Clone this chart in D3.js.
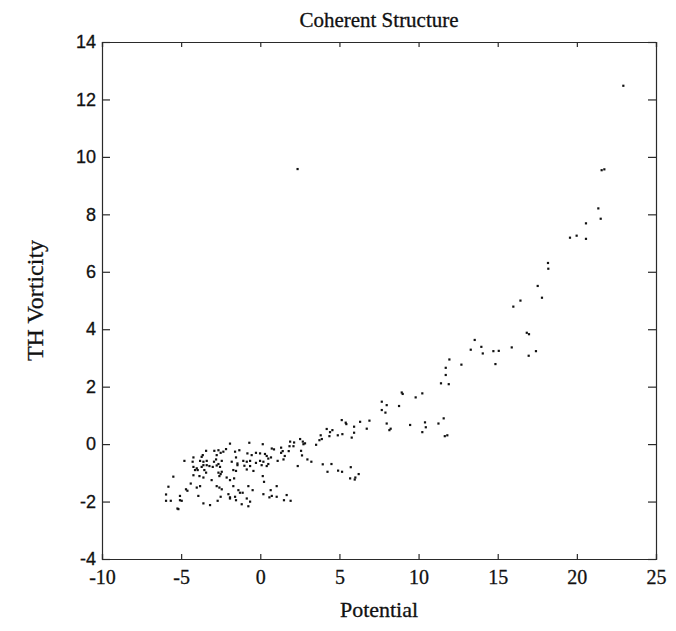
<!DOCTYPE html>
<html>
<head>
<meta charset="utf-8">
<script src="https://cdn.jsdelivr.net/npm/d3@7"></script>
<style>
  body { margin: 0; background: #fff; }
  svg { display: block; }
</style>
</head>
<body>
<div id="chart"></div>
<script>
//Chart texts
var title = "Coherent Structure";
var xLabel = "Potential";
var yLabel = "TH Vorticity";

//Axis ticks
var xTicks = [-10, -5, 0, 5, 10, 15, 20, 25];
var yTicks = [-4, -2, 0, 2, 4, 6, 8, 10, 12, 14];

//Scatter values (potential, vorticity pairs)
var potential = [
  -1.92, -0.70, 0.15, 0.72, 0.86,
  -3.43, -2.91, -2.65, -2.51, -2.34, -2.17,
  -3.64, -3.71, -2.76, -2.80, -1.60, -1.54, -1.33, -0.82, -0.55, -0.28, -0.02, 0.29, 0.40, 0.50, 0.67,
  -4.23, -4.80, -4.28, -3.81, -3.60, -3.39, -2.93, -2.44,
  -1.81, -1.45, -1.08, -0.86, -0.65, -0.28, -0.02, 0.19,
  -4.23, -4.02, -3.71, -3.60, -3.39, -3.22, -3.01, -2.76, -2.65, -2.55,
  -1.45, -1.01, -0.65, 0.08, 0.40, 0.50, 1.09,
  -4.13, -3.96, -3.54, -3.43, -2.44, -2.65, -1.71, -1.54, -0.86, -0.44,
  -5.50, -4.23, -3.85, -3.60, -3.08, -2.59, -2.51, -2.13, -1.92, -1.66,
  0.15, 0.23,
  -5.81, -4.70, -4.61, -4.40, -4.02, -3.81, -2.76, -2.59, -2.44, -1.71, -1.39, -0.76, -0.49,
  0.65, 1.03,
  -5.96, -5.08, -3.92, -2.51, -2.02, -1.92, -1.60, -1.29, -1.12,
  0.19, 0.72, 1.03, 1.66,
  -5.96, -5.66, -5.08, -4.97, -3.60, -3.18, -2.70, -1.92, -1.54, -0.86, -0.65, -0.76, -1.18,
  0.57, 1.49, 1.91,
  -5.24, -5.18,
  11.71, 11.41, 11.90, 8.93, 8.99, 10.23, 9.81, 7.67, 7.98, 8.76, 7.67, 7.90,
  5.14, 5.39, 5.43, 6.30, 6.89, 7.98, 9.46, 10.40, 11.25, 11.58, 10.45, 10.23, 8.23, 8.15, 6.72,
  4.19, 4.55, 4.40, 5.92, 5.92, 5.18, 4.89, 4.36, 5.77, 3.88, 3.73, 3.81,
  2.51, 2.68, 2.72, 2.82, 2.13, 1.88, 1.84, 2.09, 3.52, 11.65, 11.81,
  1.31, 1.41, 1.31, 1.79, 1.54, 1.46, 2.57, 2.63,
  2.97, 3.22, 2.36, 3.94, 4.49, 4.24, 4.91, 5.16, 5.71, 6.21, 5.67, 6.00, 5.96,
  17.52, 17.79, 16.43, 15.98, 16.83, 16.97, 13.54, 13.96, 13.29, 14.05, 14.72, 15.06, 15.88, 17.41, 16.95,
  11.94, 12.70, 14.85, 11.71,
  22.93, 21.56, 21.73, 21.35, 21.50, 20.57, 19.56, 19.98, 20.57, 18.17, 18.19,
  2.35
];
var vorticity = [
  0.02, 0.05, 0.00, -0.15, -0.18,
  -0.23, -0.23, -0.21, -0.30, -0.26, -0.17,
  -0.38, -0.44, -0.38, -0.53, -0.26, -0.46, -0.21, -0.32, -0.38, -0.30, -0.32, -0.34, -0.41, -0.50, -0.46,
  -0.46, -0.58, -0.61, -0.58, -0.61, -0.58, -0.61, -0.58,
  -0.61, -0.67, -0.58, -0.61, -0.58, -0.65, -0.58, -0.61,
  -0.79, -0.84, -0.79, -0.73, -0.73, -0.76, -0.79, -0.74, -0.69, -0.79,
  -0.73, -0.75, -0.76, -0.73, -0.76, -0.69, -0.58,
  -0.90, -0.90, -0.90, -0.99, -0.96, -0.99, -0.90, -0.93, -0.88, -0.93,
  -1.13, -1.08, -1.11, -1.16, -1.25, -1.11, -1.04, -1.16, -1.25, -1.19,
  -1.11, -1.31,
  -1.48, -1.57, -1.62, -1.37, -1.51, -1.46, -1.46, -1.51, -1.57, -1.46, -1.60, -1.46, -1.60,
  -1.60, -1.46,
  -1.75, -1.80, -1.80, -1.83, -1.74, -1.85, -1.83, -1.69, -1.69,
  -1.74, -1.80, -1.83, -1.77,
  -1.97, -1.97, -1.95, -1.97, -2.06, -2.12, -1.97, -1.89, -1.95, -1.89, -2.00, -2.16, -2.09,
  -1.85, -1.95, -1.97,
  -2.24, -2.26,
  2.41, 2.12, 2.09, 1.80, 1.75, 1.77, 1.63, 1.48, 1.36, 1.33, 1.19, 1.10,
  0.84, 0.75, 0.70, 0.78, 0.82, 0.72, 0.67, 0.76, 0.72, 0.90, 0.59, 0.42, 0.54, 0.49, 0.54,
  0.53, 0.49, 0.42, 0.61, 0.40, 0.35, 0.31, 0.28, 0.23, 0.18, 0.14, 0.31,
  0.18, 0.09, 0.00, 0.03, 0.06, 0.09, -0.07, -0.07, -0.02, 0.28, 0.31,
  -0.12, -0.24, -0.30, -0.24, -0.41, -0.53, -0.23, -0.39,
  -0.53, -0.61, -0.76, -0.70, -0.69, -0.96, -0.92, -0.96, -0.80, -1.04, -1.19, -1.16, -1.23,
  5.51, 5.10, 5.00, 4.79, 3.88, 3.83, 3.63, 3.39, 3.29, 3.16, 3.24, 3.25, 3.37, 3.24, 3.08,
  2.95, 2.77, 2.79, 2.66,
  12.48, 9.54, 9.57, 8.21, 7.85, 7.69, 7.19, 7.26, 7.15, 6.31, 6.11,
  9.58
];

var width = 676;
var height = 631;
var margin = {
  left: 102,
  right: 20,
  top: 42,
  bottom: 72
};
var chartWidth = width - margin.left - margin.right;
var chartHeight = height - margin.top - margin.bottom;

var serif = "'Liberation Serif', 'Times New Roman', serif";
var sans = "'Liberation Sans', Arial, sans-serif";
var ink = "#111";
var frameColor = "#2a2a2a";

var points = potential.map(function(d, i) {
  return { x: d, y: vorticity[i] };
});

//Plain hyphen for negatives, like the original print
var plainFormat = function(d) { return String(d); };

var svg = d3.select("#chart").append("svg")
  .attr("width", width)
  .attr("height", height);

var g = svg.append("g")
  .attr("transform", "translate(" + margin.left + "," + margin.top + ")");

var x = d3.scaleLinear().domain([-10, 25]).range([0, chartWidth]);
var y = d3.scaleLinear().domain([-4, 14]).range([chartHeight, 0]);

//Bottom axis with labels, ticks pointing inward
var xAxis = g.append("g")
  .attr("transform", "translate(0," + chartHeight + ")")
  .call(d3.axisBottom(x).tickValues(xTicks).tickSize(-5).tickPadding(11).tickFormat(plainFormat));
xAxis.selectAll("text")
  .attr("font-family", serif)
  .attr("font-size", 20)
  .attr("fill", ink)
  .attr("stroke", ink)
  .attr("stroke-width", 0.3);

//Top axis, ticks only
g.append("g")
  .call(d3.axisTop(x).tickValues(xTicks).tickSize(-5).tickFormat(""));

//Left axis with labels
var yAxis = g.append("g")
  .call(d3.axisLeft(y).tickValues(yTicks).tickSize(-8).tickPadding(6).tickFormat(plainFormat));
yAxis.selectAll("text")
  .attr("font-family", sans)
  .attr("font-size", 18)
  .attr("fill", ink)
  .attr("stroke", ink)
  .attr("stroke-width", 0.3);

//Right axis, ticks only
g.append("g")
  .attr("transform", "translate(" + chartWidth + ",0)")
  .call(d3.axisRight(y).tickValues(yTicks).tickSize(-8).tickFormat(""));

g.selectAll(".domain, .tick line")
  .attr("stroke", frameColor)
  .attr("stroke-width", 1.2);

//Scatter dots
g.selectAll(".dot")
  .data(points)
  .enter().append("rect")
  .attr("class", "dot")
  .attr("x", function(d) { return x(d.x) - 1; })
  .attr("y", function(d) { return y(d.y) - 1; })
  .attr("width", 2.2)
  .attr("height", 2.2)
  .attr("fill", ink);

//Title and axis labels
svg.append("text")
  .attr("x", margin.left + chartWidth / 2)
  .attr("y", 27)
  .attr("text-anchor", "middle")
  .attr("font-family", serif)
  .attr("font-size", 21)
  .attr("fill", ink)
  .attr("stroke", ink)
  .attr("stroke-width", 0.3)
  .text(title);

svg.append("text")
  .attr("x", margin.left + chartWidth / 2)
  .attr("y", 617)
  .attr("text-anchor", "middle")
  .attr("font-family", serif)
  .attr("font-size", 22)
  .attr("fill", ink)
  .attr("stroke", ink)
  .attr("stroke-width", 0.3)
  .text(xLabel);

svg.append("text")
  .attr("transform", "translate(43," + (margin.top + chartHeight / 2) + ") rotate(-90)")
  .attr("text-anchor", "middle")
  .attr("font-family", serif)
  .attr("font-size", 24)
  .attr("fill", ink)
  .attr("stroke", ink)
  .attr("stroke-width", 0.3)
  .text(yLabel);
</script>
</body>
</html>
